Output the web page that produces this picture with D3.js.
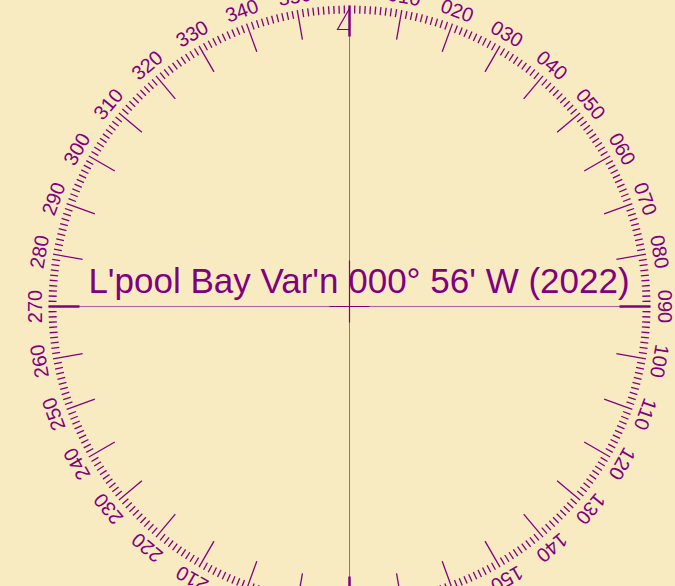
<!DOCTYPE html>
<html>
<head>
<meta charset="utf-8">
<script src="https://cdn.jsdelivr.net/npm/d3@7"></script>
<style>
  html, body { margin: 0; padding: 0; background: #f9ebc1; overflow: hidden; }
  svg { display: block; }
</style>
</head>
<body>
<div id="chart"></div>
<script>
// compass rose data
var labelBearings = [10, 20, 30, 40, 50, 60, 70, 80, 90, 100, 110, 120, 130, 140, 150, 160, 170, 180,
                     190, 200, 210, 220, 230, 240, 250, 260, 270, 280, 290, 300, 310, 320, 330, 340, 350];
var labelTexts = ["010", "020", "030", "040", "050", "060", "070", "080", "090", "100", "110", "120",
                  "130", "140", "150", "160", "170", "180", "190", "200", "210", "220", "230", "240",
                  "250", "260", "270", "280", "290", "300", "310", "320", "330", "340", "350"];
var placeName = "L'pool Bay";
var variation = ["000", "56", "W"];
var year = "2022";

var width = 675;
var height = 586;
var cx = 349.5;
var cy = 306.5;
var outerR = 301;
var purple = '#800080';

var angle = d3.scaleLinear().domain([0, 360]).range([0, 2 * Math.PI]);

function px(b, r) { return cx + Math.sin(angle(b)) * r; }
function py(b, r) { return cy - Math.cos(angle(b)) * r; }

var svg = d3.select('#chart').append('svg')
    .attr('width', width)
    .attr('height', height);

svg.append('rect')
    .attr('width', width)
    .attr('height', height)
    .attr('fill', '#f9ebc1');

// thin cross lines
svg.append('line')
    .attr('x1', px(270, outerR)).attr('y1', cy)
    .attr('x2', px(90, outerR)).attr('y2', cy)
    .attr('stroke', purple).attr('stroke-width', 1).attr('opacity', 0.6);
svg.append('line')
    .attr('x1', cx).attr('y1', py(0, outerR))
    .attr('x2', cx).attr('y2', py(180, outerR))
    .attr('stroke', purple).attr('stroke-width', 1).attr('opacity', 0.6);

// darker centre cross
svg.append('line')
    .attr('x1', cx - 20).attr('y1', cy).attr('x2', cx + 20).attr('y2', cy)
    .attr('stroke', purple).attr('stroke-width', 1.2);
svg.append('line')
    .attr('x1', cx).attr('y1', cy - 46).attr('x2', cx).attr('y2', cy + 16)
    .attr('stroke', purple).attr('stroke-width', 1.2);

// degree ticks
var degrees = d3.range(0, 360);
svg.append('g').attr('class', 'ticks')
    .selectAll('line')
    .data(degrees)
    .enter()
    .append('line')
    .attr('x1', function(d) { return px(d, outerR); })
    .attr('y1', function(d) { return py(d, outerR); })
    .attr('x2', function(d) { return px(d, outerR - (d % 90 === 0 ? 31 : d % 10 === 0 ? 30 : 8)); })
    .attr('y2', function(d) { return py(d, outerR - (d % 90 === 0 ? 31 : d % 10 === 0 ? 30 : 8)); })
    .attr('stroke', purple)
    .attr('stroke-width', function(d) { return d % 90 === 0 ? 2.5 : 1.3; });

// bearing labels
svg.append('g').attr('class', 'labels')
    .selectAll('text')
    .data(labelBearings)
    .enter()
    .append('text')
    .attr('transform', function(d) {
        return 'translate(' + px(d, outerR + 7) + ',' + py(d, outerR + 7) + ') rotate(' + d + ')';
    })
    .attr('text-anchor', 'middle')
    .style('font', '20px "Liberation Sans", Arial, sans-serif')
    .attr('fill', purple)
    .text(function(d, i) { return labelTexts[i]; });

// north half-arrowhead
svg.append('path')
    .attr('d', 'M' + cx + ',' + py(0, outerR - 3) +
               'L' + (cx - 12) + ',' + py(0, outerR - 24) +
               'L' + cx + ',' + py(0, outerR - 24))
    .attr('fill', 'none')
    .attr('stroke', purple)
    .attr('stroke-width', 1.2);

// title
svg.append('text')
    .attr('x', 359)
    .attr('y', 293)
    .attr('text-anchor', 'middle')
    .style('font', '35px "Liberation Sans", Arial, sans-serif')
    .attr('fill', purple)
    .text(placeName + " Var'n " + variation[0] + '\u00b0 ' + variation[1] + "' " + variation[2] + ' (' + year + ')');
</script>
</body>
</html>
